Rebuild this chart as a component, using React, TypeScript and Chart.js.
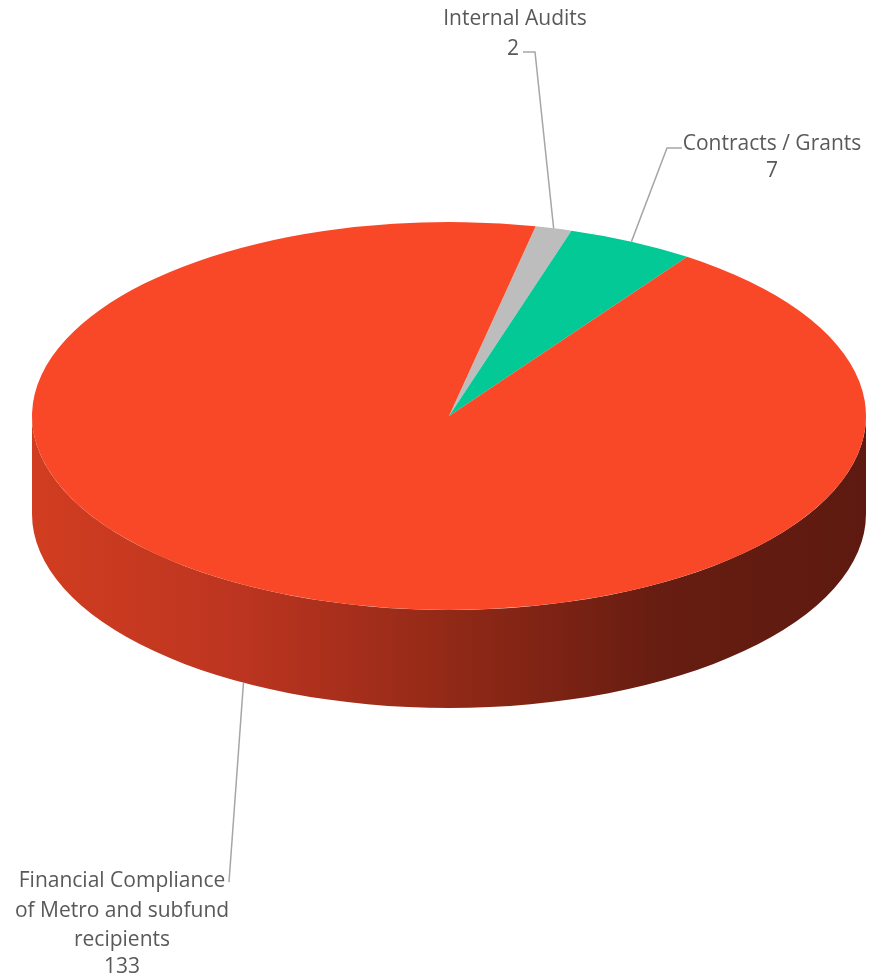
import React, { useEffect, useRef } from "react";
import { Chart, registerables } from "chart.js";

Chart.register(...registerables);

const categories = ["Internal Audits", "Contracts / Grants", "Financial Compliance of Metro and subfund recipients"];
const counts = [2, 7, 133];
const sliceColors = ["#BDBDBD", "#02C995", "#F94828"];
const labelLines = [["Internal Audits", "2"], ["Contracts / Grants", "7"], ["Financial Compliance", "of Metro and subfund", "recipients", "133"]];

const TILT = 0.465; // vertical squash of the top face
const CENTER_Y = 416; // centre of the top ellipse on the page
const DEPTH = 98; // thickness of the 3D wall

const pie3d = {
  id: "pie3d",
  beforeDatasetsDraw(chart: any) {
    const arc = chart.getDatasetMeta(0).data[0];
    if (!arc) return;
    const ctx = chart.ctx;
    const cx = arc.x;
    const r = arc.outerRadius;
    const ry = r * TILT;
    ctx.save();
    const g = ctx.createLinearGradient(cx - r, 0, cx + r, 0);
    g.addColorStop(0, "#D13D20");
    g.addColorStop(0.25, "#BC3520");
    g.addColorStop(0.5, "#922917");
    g.addColorStop(0.75, "#671D11");
    g.addColorStop(1, "#5E1A10");
    ctx.beginPath();
    ctx.ellipse(cx, CENTER_Y, r, ry, 0, 0, Math.PI);
    ctx.lineTo(cx - r, CENTER_Y + DEPTH);
    ctx.ellipse(cx, CENTER_Y + DEPTH, r, ry, 0, Math.PI, 0, true);
    ctx.closePath();
    ctx.fillStyle = g;
    ctx.fill();
    ctx.restore();
    ctx.save();
    ctx.translate(cx, CENTER_Y);
    ctx.scale(1, TILT);
    ctx.translate(-cx, -arc.y);
  },
  afterDatasetsDraw(chart: any) {
    const meta = chart.getDatasetMeta(0);
    const arcs = meta.data;
    if (!arcs[0]) return;
    const ctx = chart.ctx;
    ctx.restore();
    const cx = arcs[0].x;
    const r = arcs[0].outerRadius;
    const ry = r * TILT;
    const edge = (a: number, t: number) => [cx + Math.cos(a) * r * t, CENTER_Y + Math.sin(a) * ry * t];

    ctx.save();
    ctx.font = "21px 'Open Sans', sans-serif";
    ctx.fillStyle = "#595959";
    ctx.textAlign = "center";
    ctx.textBaseline = "middle";
    ctx.strokeStyle = "#A6A6A6";
    ctx.lineWidth = 1.5;

    {
      const a = arcs[0];
      const [ex, ey] = edge((a.startAngle + a.endAngle) / 2, 1.0);
      ctx.beginPath();
      ctx.moveTo(523, 52);
      ctx.lineTo(535, 52);
      ctx.lineTo(ex, ey);
      ctx.stroke();
      ctx.fillText(labelLines[0][0], 515, 19);
      ctx.fillText(labelLines[0][1], 513, 49);
    }
    {
      const a = arcs[1];
      const [ex, ey] = edge((a.startAngle + a.endAngle) / 2, 1.0);
      ctx.beginPath();
      ctx.moveTo(682, 148);
      ctx.lineTo(667, 148);
      ctx.lineTo(ex, ey);
      ctx.stroke();
      ctx.fillText(labelLines[1][0], 772, 144);
      ctx.fillText(labelLines[1][1], 772, 171);
    }
    {
      const ang = (Math.PI * 3) / 4 - 0.27;
      const ex = cx + Math.cos(ang) * r;
      const ey = CENTER_Y + Math.sin(ang) * ry + DEPTH;
      ctx.beginPath();
      ctx.moveTo(229, 882);
      ctx.lineTo(ex, ey);
      ctx.stroke();
      const ys = [881, 911, 940, 967];
      labelLines[2].forEach((t, i) => ctx.fillText(t, 122, ys[i]));
    }
    ctx.restore();
  },
};

export default function App() {
  const ref = useRef<HTMLCanvasElement>(null);
  useEffect(() => {
    document.body.style.margin = "0";
    const chart = new Chart(ref.current!, {
      type: "pie",
      data: {
        labels: categories,
        datasets: [
          {
            data: counts,
            backgroundColor: sliceColors,
            borderWidth: 0,
          },
        ],
      },
      options: {
        responsive: false,
        animation: false,
        rotation: 12,
        layout: { padding: { left: 32, right: 5, top: 0, bottom: 144 } },
        plugins: { legend: { display: false }, tooltip: { enabled: false } },
      },
      plugins: [pie3d],
    });
    return () => chart.destroy();
  }, []);
  return (
    <div style={{ position: "absolute", left: 0, top: 0, width: 871, height: 978 }}>
      <canvas ref={ref} width={871} height={978} />
    </div>
  );
}
